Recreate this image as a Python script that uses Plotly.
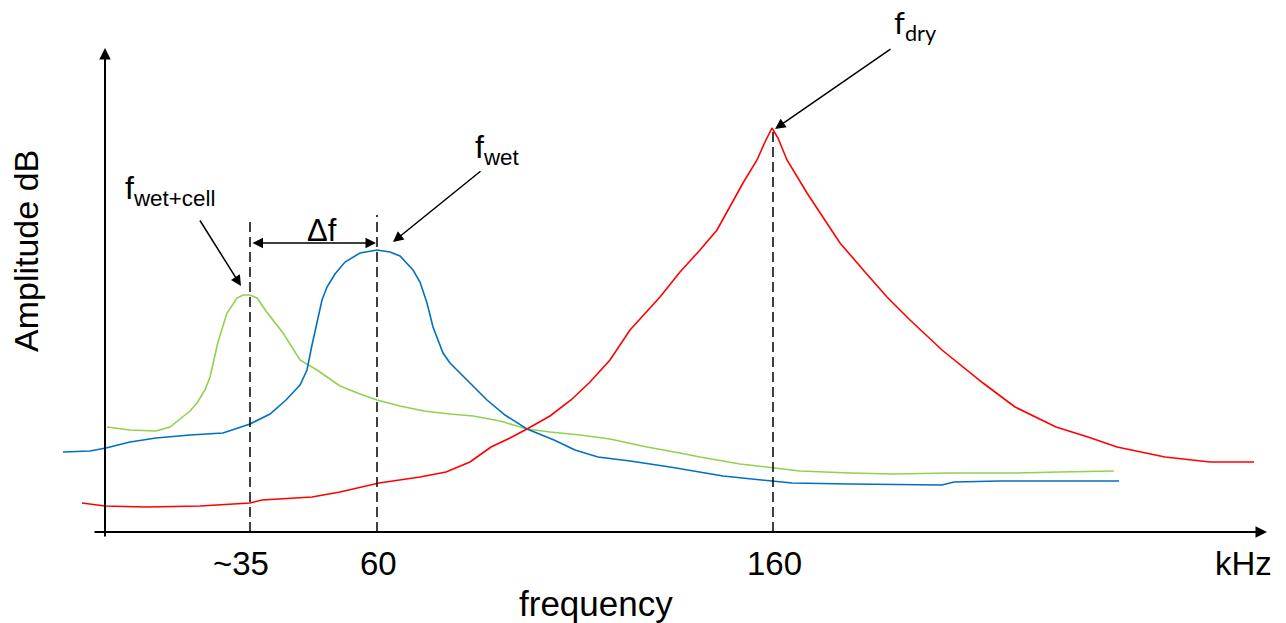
import plotly.graph_objects as go

# ---- schematic data (x = position along frequency axis, y = amplitude above axis) ----
green_x = [107, 130, 156, 170, 180, 190, 197, 205, 210, 218, 227, 237, 243, 250, 257, 266, 283, 300, 317, 340, 360, 377, 400, 424, 450, 473, 500, 527, 550, 580, 610, 647, 680, 700, 740, 772, 800, 850, 893, 950, 1015, 1060, 1114]
green_y = [105, 102, 101, 105, 113, 121, 129, 142, 155, 190, 219, 234, 237, 237, 234, 221, 199, 172, 162, 146, 138, 132, 126, 121, 118, 116, 111, 103, 100, 97, 93, 85, 79, 75, 68, 64, 61, 59, 58, 59, 59, 60, 61]

blue_x = [63, 90, 106, 130, 156, 190, 223, 250, 270, 286, 300, 307, 312, 317, 322, 327, 335, 345, 360, 377, 390, 400, 413, 420, 427, 433, 443, 450, 465, 487, 505, 527, 554, 575, 598, 630, 670, 699, 723, 772, 792, 850, 942, 954, 1000, 1060, 1119]
blue_y = [80, 81, 84, 90, 94, 97, 99, 108, 118, 132, 147, 162, 187, 209, 232, 245, 258, 270, 279, 282, 280, 276, 262, 250, 229, 205, 179, 169, 154, 132, 117, 103, 92, 82, 75, 71, 65, 60, 56, 51, 49, 48, 47, 50, 51, 51, 51]

red_x = [82, 105, 147, 200, 250, 262, 312, 340, 379, 420, 446, 470, 491, 510, 527, 550, 571, 590, 610, 630, 660, 680, 700, 717, 743, 757, 765, 772, 778, 787, 807, 840, 865, 887, 910, 942, 983, 1015, 1056, 1088, 1117, 1165, 1210, 1254]
red_y = [29, 26, 25, 26, 29, 32, 35, 40, 49, 55, 60, 70, 85, 94, 103, 116, 132, 150, 172, 202, 235, 260, 282, 302, 349, 372, 390, 404, 394, 372, 339, 289, 260, 235, 212, 182, 149, 125, 105, 95, 85, 75, 70, 70]

tick_pos = [250, 377, 773]
tick_text = ["~35", "60", "160"]
peak_tops = [314, 317, 403]   # top of the dashed marker lines

fig = go.Figure()

line_w = 1.6
fig.add_trace(go.Scatter(x=green_x, y=green_y, mode="lines", line=dict(color="#92D050", width=line_w), hoverinfo="skip"))
fig.add_trace(go.Scatter(x=blue_x, y=blue_y, mode="lines", line=dict(color="#0070C0", width=line_w), hoverinfo="skip"))
fig.add_trace(go.Scatter(x=red_x, y=red_y, mode="lines", line=dict(color="#FF0000", width=line_w), hoverinfo="skip"))

for xp, top in zip(tick_pos, peak_tops):
    fig.add_trace(go.Scatter(x=[xp, xp], y=[0, top], mode="lines",
                             line=dict(color="black", width=1.5, dash="10px,5px"), hoverinfo="skip"))

FONT = "Liberation Sans, Arial, sans-serif"
ann = []

def arrow(tip, tail, width=1.5, head=2, size=1.4, side="end"):
    ann.append(dict(x=tip[0], y=tip[1], ax=tail[0], ay=tail[1], xref="x", yref="y",
                    axref="x", ayref="y", text="", showarrow=True, arrowhead=head,
                    startarrowhead=head, arrowsize=size, startarrowsize=size,
                    arrowwidth=width, arrowcolor="black", arrowside=side, standoff=0, startstandoff=0))

# axes with arrow heads
arrow((105, 484), (105, -6), width=2, size=1.15)
arrow((1267, 0), (93, 0), width=2, size=1.15)

# label arrows
arrow((241, 246), (199, 313))
arrow((393, 290), (482, 362))
arrow((775, 403), (892, 484))
arrow((376, 289), (251, 289), side="end+start")

def text(x, y, s, size=32, xanchor="center", family=FONT, **kw):
    ann.append(dict(x=x, y=y, xref="x", yref="y", text=s, showarrow=False,
                    xanchor=xanchor, yanchor="middle", font=dict(family=family, size=size, color="black"), **kw))

for xp, lab in zip(tick_pos, tick_text):
    text(xp - (9 if lab.startswith("~") else -1), -31, lab, size=33)
text(1243, -31, "kHz", size=33)
text(596, -71, "frequency", size=35)
text(26, 281, "Amplitude dB", size=34, textangle=-90)

text(123, 342, "f<sub>wet+cell</sub>", size=32, xanchor="left")
text(473, 383, "f<sub>wet</sub>", size=32, xanchor="left")
text(892, 508, "f<sub>dry</sub>", size=31, xanchor="left", family="Lato, Open Sans, sans-serif")
text(322, 302, "Δf", size=31)

fig.update_layout(
    width=1286, height=623,
    margin=dict(l=0, r=0, t=0, b=0),
    paper_bgcolor="white", plot_bgcolor="white",
    showlegend=False,
    xaxis=dict(range=[0, 1286], visible=False, fixedrange=True),
    yaxis=dict(range=[-91, 532], visible=False, fixedrange=True),
    annotations=ann,
)

fig.write_html("out.html", config={"displayModeBar": False})
